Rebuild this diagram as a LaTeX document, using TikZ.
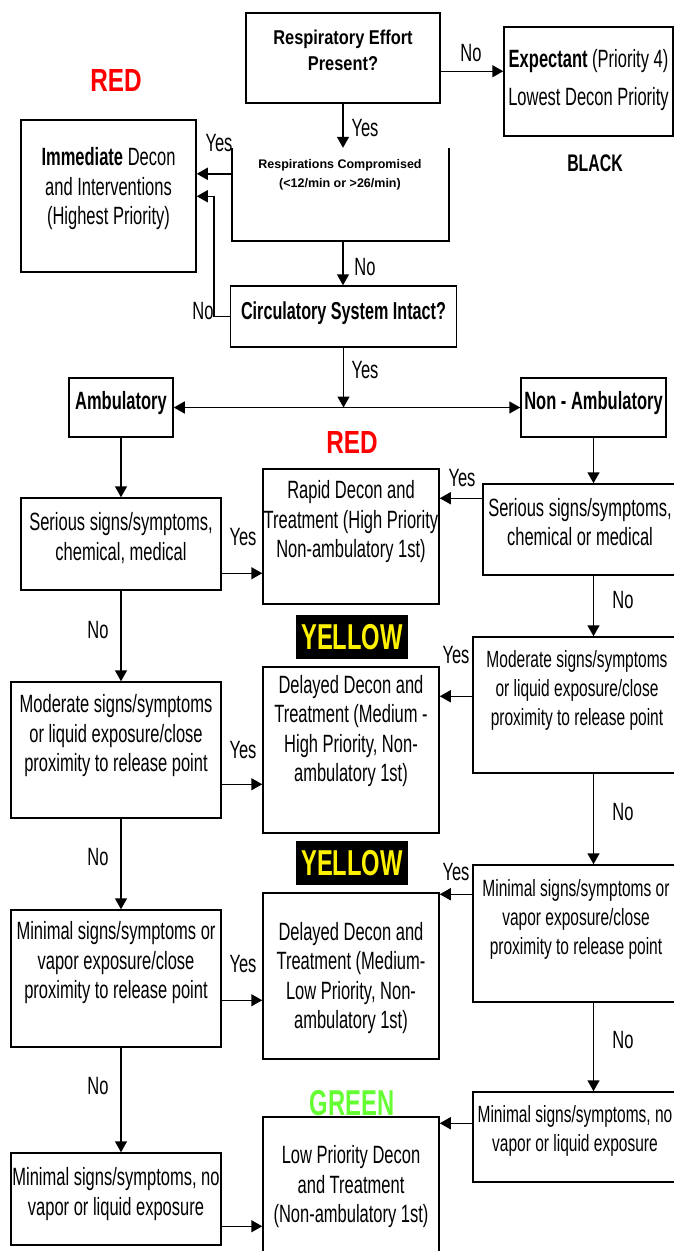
\documentclass[tikz,border=0pt]{standalone}
\usepackage{fontspec}
\setmainfont[FakeStretch=0.66]{Liberation Sans}
\newfontfamily\headfont[FakeStretch=0.82]{Liberation Sans}
\newfontfamily\tagfont[FakeStretch=0.76]{Liberation Sans}
\newfontfamily\plainfont{Liberation Sans}
\usetikzlibrary{arrows.meta,calc}
\definecolor{tagred}{RGB}{255,0,0}
\definecolor{taggreen}{RGB}{102,255,51}

\begin{document}
\begin{tikzpicture}[
    x=1pt, y=-1pt,
    box/.style={draw, line width=1.5pt, inner sep=0pt},
    txt/.style={align=center, inner sep=0pt,
        font=\fontsize{25}{29.5}\selectfont},
    rtxt/.style={txt, font=\fontsize{23.5}{29}\selectfont},
    lbl/.style={inner sep=0pt, font=\fontsize{25}{29}\selectfont},
    tag/.style={inner sep=0pt, font=\bfseries\fontsize{36}{36}\selectfont},
    link/.style={line width=1.5pt},
    arr/.style={link, -{Triangle[length=11pt,width=12pt]}}
]
\useasboundingbox (0,0) rectangle (674,1251);
\clip (0,0) rectangle (674,1251);

% top decision part
\node[box, minimum width=194pt, minimum height=90pt] (resp) at (343,58) {};
\node[txt, font=\headfont\bfseries\fontsize{20}{26}\selectfont] (respT) at (343,50)
    {Respiratory Effort\\Present?};
\node[box, minimum width=169pt, minimum height=109pt] (expect) at (588.5,81.5) {};
\node[txt] (expectT) at (588.5,80)
    {\textbf{Expectant} (Priority 4)\\[9pt]Lowest Decon Priority};
\node[box, minimum width=175pt, minimum height=152pt] (immed) at (108.5,196) {};
\node[txt] (immedT) at (108.5,189)
    {\textbf{Immediate} Decon\\and Interventions\\(Highest Priority)};
\node[inner sep=0pt, minimum width=217pt, minimum height=93pt] (rcomp) at (340.5,194.5) {};
\draw[link] (rcomp.north west) -- (rcomp.south west) -- (rcomp.south east) -- (rcomp.north east);
\node[txt, font=\plainfont\bfseries\fontsize{12.5}{19}\selectfont] (rcompT) at (340,175)
    {Respirations Compromised\\(<12/min or >26/min)};
\node[box, minimum width=226pt, minimum height=61pt] (circ) at (343.5,316.5) {};
\node[txt, font=\bfseries\fontsize{24.5}{29}\selectfont] (circT) at (343.5,313)
    {Circulatory System Intact?};

% split
\node[box, minimum width=104pt, minimum height=59pt] (amb) at (121,407.5) {};
\node[txt, font=\bfseries\fontsize{25}{29}\selectfont] (ambT) at (121,403) {Ambulatory};
\node[box, minimum width=145pt, minimum height=59pt] (namb) at (593.5,407.5) {};
\node[txt, font=\bfseries\fontsize{25}{29}\selectfont] (nambT) at (593.5,403) {Non - Ambulatory};

% left column
\node[box, minimum width=200pt, minimum height=92pt] (serL) at (121,544) {};
\node[txt] (serLT) at (121,538) {Serious signs/symptoms,\\chemical, medical};
\node[box, minimum width=210pt, minimum height=136pt] (modL) at (116,750) {};
\node[txt] (modLT) at (116,736)
    {Moderate signs/symptoms\\or liquid exposure/close\\proximity to release point};
\node[box, minimum width=210pt, minimum height=137pt] (minL) at (116,978.5) {};
\node[txt] (minLT) at (116,963)
    {Minimal signs/symptoms or\\vapor exposure/close\\proximity to release point};
\node[box, minimum width=210pt, minimum height=92pt] (noneL) at (116,1199) {};
\node[txt] (noneLT) at (116,1194)
    {Minimal signs/symptoms, no\\vapor or liquid exposure};

% middle column
\node[box, minimum width=176pt, minimum height=135pt] (rapid) at (351,536.5) {};
\node[txt] (rapidT) at (351,522)
    {Rapid Decon and\\Treatment (High Priority\\Non-ambulatory 1st)};
\node[box, minimum width=176pt, minimum height=166pt] (delA) at (351,750) {};
\node[txt] (delAT) at (351,731)
    {Delayed Decon and\\Treatment (Medium -\\High Priority, Non-\\ambulatory 1st)};
\node[box, minimum width=176pt, minimum height=166pt] (delB) at (351,976) {};
\node[txt] (delBT) at (351,978)
    {Delayed Decon and\\Treatment (Medium-\\Low Priority, Non-\\ambulatory 1st)};
\node[box, minimum width=176pt, minimum height=145pt] (low) at (351,1189.5) {};
\node[txt] (lowT) at (351,1187)
    {Low Priority Decon\\and Treatment\\(Non-ambulatory 1st)};

% right column
\node[box, minimum width=207pt, minimum height=91pt] (serR) at (586.5,529.5) {};
\node[txt] (serRT) at (580,522) {Serious signs/symptoms,\\chemical or medical};
\node[box, minimum width=217pt, minimum height=136pt] (modR) at (581.5,705) {};
\node[rtxt] (modRT) at (577,690)
    {Moderate signs/symptoms\\or liquid exposure/close\\proximity to release point};
\node[box, minimum width=217pt, minimum height=137pt] (minR) at (581.5,933.5) {};
\node[rtxt] (minRT) at (576,919)
    {Minimal signs/symptoms or\\vapor exposure/close\\proximity to release point};
\node[box, minimum width=217pt, minimum height=90pt] (noneR) at (581.5,1137) {};
\node[rtxt] (noneRT) at (575,1131)
    {Minimal signs/symptoms, no\\vapor or liquid exposure};

% colour tags
\node[inner sep=0pt, text=tagred, font=\tagfont\bfseries\fontsize{32}{32}\selectfont] (redA) at (116,80) {RED};
\node[inner sep=0pt, text=tagred, font=\tagfont\bfseries\fontsize{32}{32}\selectfont] (redB) at (352,442) {RED};
\node[inner sep=0pt, font=\bfseries\fontsize{24}{24}\selectfont] (black) at (595,163) {BLACK};
\node[tag, fill=black, text=yellow, minimum width=112pt, minimum height=44pt] (yelA) at (352,637) {YELLOW};
\node[tag, fill=black, text=yellow, minimum width=112pt, minimum height=44pt] (yelB) at (352,863) {YELLOW};
\node[tag, text=taggreen] (green) at (352,1103) {GREEN};

% connectors
\draw[arr] (resp.south) -- (resp.south |- rcomp.north);
\draw[arr] (resp.south |- rcomp.south) -- (resp.south |- circ.north);
\draw[arr] (circ.west) -- ++(-16,0) |- ($(immed.north east)+(0,77)$);
\draw[arr] (circ.south) coordinate (jct) -- (jct |- amb.east);
\draw[link, {Triangle[length=11pt,width=12pt]}-{Triangle[length=11pt,width=12pt]}] (amb.east) -- (namb.west);
\draw[arr] (amb.south) -- (amb.south |- serL.north);
\draw[arr] (namb.south) -- (namb.south |- serR.north);
\foreach \a/\b in {serL/modL, modL/minL, minL/noneL}
    \draw[arr] (amb.south |- \a.south) -- (amb.south |- \b.north);
\foreach \a/\b in {serR/modR, modR/minR, minR/noneR}
    \draw[arr] (namb.south |- \a.south) -- (namb.south |- \b.north);
\foreach \src/\dst/\dy in {resp/expect/59, serL/rapid/76, modL/delA/103, minL/delB/91, noneL/low/74}
    \draw[arr] ($(\src.north east)+(0,\dy)$) coordinate (tmp) -- (tmp -| \dst.west);
\foreach \src/\dst/\dy in {rcomp/immed/26, serR/rapid/15, modR/delA/60, minR/delB/30, noneR/low/32}
    \draw[arr] ($(\src.north west)+(0,\dy)$) coordinate (tmp) -- (tmp -| \dst.east);

% yes / no labels
\foreach \x/\y/\t [count=\i] in {471/53/No, 365/267/No, 203/311/No, 98/630/No, 623/600/No,
    98/857/No, 623/812/No, 98/1086/No, 623/1040/No,
    365/128/Yes, 219/143/Yes, 365/370/Yes, 243/537/Yes, 462/478/Yes,
    456/655/Yes, 243/750/Yes, 456/872/Yes, 243/964/Yes}
    \node[lbl] (yn\i) at (\x,\y) {\t};
\end{tikzpicture}
\end{document}
